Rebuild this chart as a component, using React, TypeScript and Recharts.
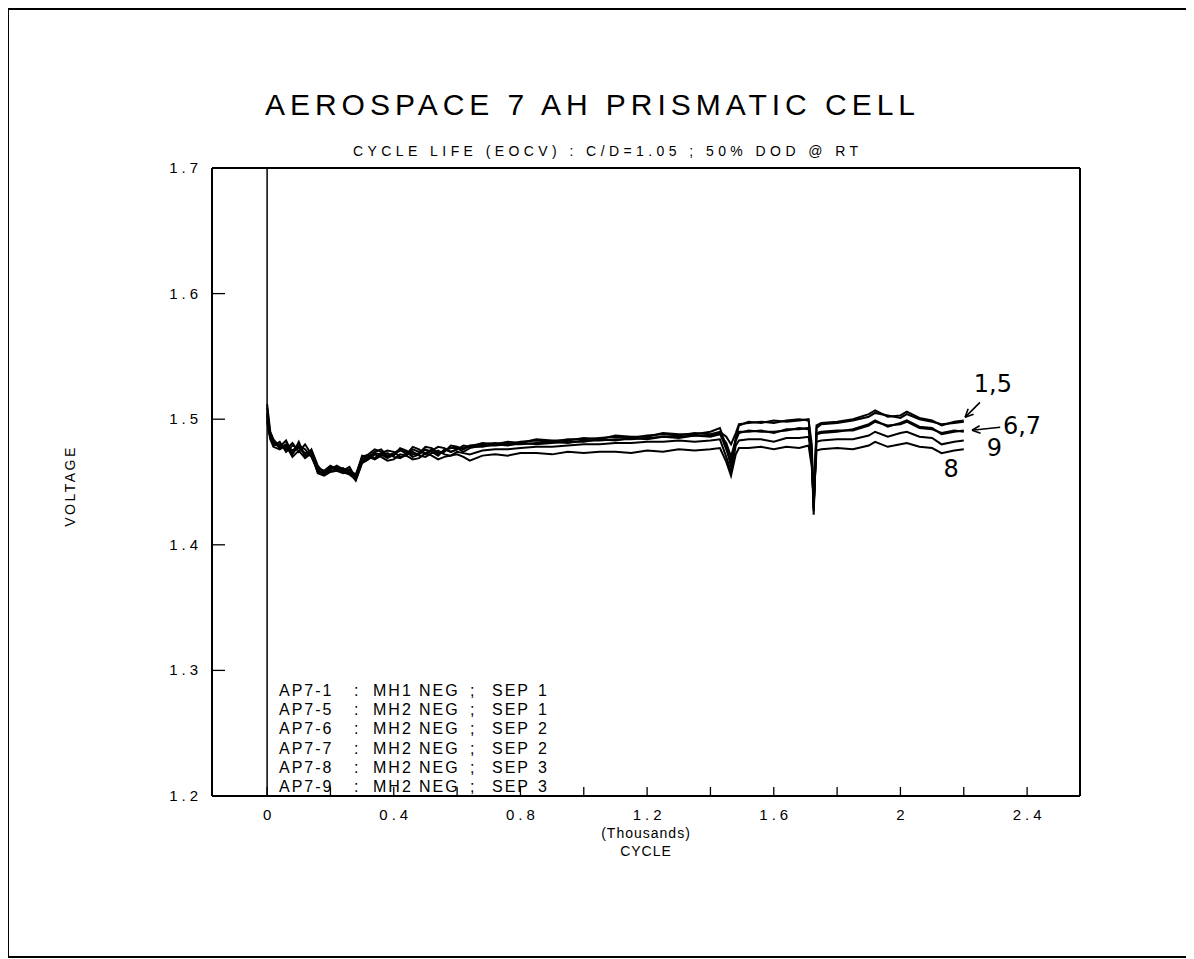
import { LineChart, Line, XAxis, YAxis, ReferenceLine, ReferenceDot, Label } from "recharts";

// cycles in thousands
const cycles = [
  0, 0.01, 0.02, 0.04, 0.06, 0.08, 0.1, 0.12, 0.14, 0.16, 0.18, 0.2, 0.22, 0.24, 0.26, 0.28, 0.3,
  0.32, 0.34, 0.36, 0.38, 0.4, 0.42, 0.44, 0.46, 0.48, 0.5, 0.52, 0.54, 0.56, 0.58, 0.6, 0.62, 0.64,
  0.68, 0.72, 0.76, 0.8, 0.85, 0.9, 0.95, 1.0, 1.05, 1.1, 1.15, 1.2, 1.25, 1.3, 1.35, 1.4,
  1.43, 1.45, 1.465, 1.48, 1.49, 1.52, 1.56, 1.6, 1.64, 1.68, 1.71, 1.72, 1.726, 1.735, 1.75, 1.8, 1.85,
  1.9, 1.92, 1.96, 2.0, 2.02, 2.06, 2.1, 2.13, 2.17, 2.2,
];

const ap71 = [
  1.512, 1.49, 1.484, 1.478, 1.483, 1.472, 1.482, 1.47, 1.476, 1.463, 1.457, 1.461, 1.462, 1.459, 1.462, 1.453, 1.47,
  1.472, 1.476, 1.474, 1.47, 1.471, 1.477, 1.475, 1.472, 1.473, 1.478, 1.477, 1.473, 1.474, 1.479, 1.478, 1.476, 1.479,
  1.48, 1.481, 1.48, 1.482, 1.483, 1.482, 1.484, 1.484, 1.485, 1.486, 1.485, 1.487, 1.488, 1.487, 1.489, 1.488,
  1.49, 1.486, 1.48, 1.489, 1.496, 1.497, 1.498, 1.497, 1.499, 1.5, 1.499, 1.48, 1.43, 1.495, 1.497, 1.498, 1.5,
  1.504, 1.507, 1.502, 1.503, 1.506, 1.501, 1.499, 1.495, 1.498, 1.499,
];
const ap75 = [
  1.509, 1.488, 1.481, 1.48, 1.476, 1.481, 1.474, 1.48, 1.472, 1.461, 1.459, 1.463, 1.46, 1.461, 1.457, 1.455, 1.471,
  1.47, 1.474, 1.476, 1.471, 1.473, 1.476, 1.472, 1.478, 1.476, 1.472, 1.475, 1.478, 1.477, 1.474, 1.476, 1.479, 1.478,
  1.481, 1.48, 1.482, 1.481, 1.484, 1.483, 1.483, 1.485, 1.484, 1.487, 1.486, 1.486, 1.489, 1.488, 1.488, 1.49,
  1.493, 1.478, 1.462, 1.485, 1.495, 1.498, 1.497, 1.499, 1.498, 1.499, 1.5, 1.47, 1.424, 1.493, 1.496, 1.497, 1.499,
  1.502, 1.505, 1.503, 1.501, 1.504, 1.5, 1.498, 1.496, 1.497, 1.498,
];
const ap76 = [
  1.505, 1.487, 1.479, 1.482, 1.474, 1.479, 1.477, 1.473, 1.474, 1.46, 1.456, 1.462, 1.461, 1.458, 1.46, 1.454, 1.468,
  1.471, 1.469, 1.473, 1.475, 1.474, 1.47, 1.471, 1.476, 1.474, 1.473, 1.476, 1.472, 1.475, 1.477, 1.477, 1.474, 1.477,
  1.479, 1.479, 1.48, 1.48, 1.481, 1.482, 1.481, 1.483, 1.483, 1.484, 1.484, 1.485, 1.486, 1.486, 1.487, 1.486,
  1.488, 1.481, 1.47, 1.484, 1.49, 1.49, 1.491, 1.489, 1.492, 1.492, 1.493, 1.475, 1.427, 1.488, 1.489, 1.49, 1.492,
  1.496, 1.499, 1.494, 1.497, 1.499, 1.494, 1.493, 1.488, 1.49, 1.491,
];
const ap77 = [
  1.503, 1.486, 1.482, 1.477, 1.48, 1.475, 1.479, 1.476, 1.47, 1.459, 1.458, 1.46, 1.463, 1.46, 1.459, 1.456, 1.469,
  1.469, 1.473, 1.472, 1.469, 1.472, 1.475, 1.474, 1.47, 1.472, 1.476, 1.474, 1.471, 1.476, 1.474, 1.476, 1.477, 1.478,
  1.478, 1.48, 1.479, 1.481, 1.48, 1.481, 1.482, 1.482, 1.484, 1.483, 1.485, 1.484, 1.486, 1.485, 1.487, 1.487,
  1.489, 1.476, 1.466, 1.483, 1.489, 1.491, 1.49, 1.49, 1.491, 1.493, 1.492, 1.472, 1.429, 1.489, 1.49, 1.491, 1.491,
  1.495, 1.498, 1.495, 1.496, 1.498, 1.493, 1.492, 1.489, 1.491, 1.49,
];
const ap78 = [
  1.498, 1.484, 1.478, 1.476, 1.479, 1.47, 1.475, 1.469, 1.473, 1.457, 1.455, 1.458, 1.459, 1.457, 1.458, 1.451, 1.465,
  1.468, 1.472, 1.47, 1.467, 1.468, 1.472, 1.471, 1.468, 1.469, 1.473, 1.471, 1.468, 1.47, 1.471, 1.472, 1.47, 1.467,
  1.471, 1.472, 1.471, 1.473, 1.473, 1.472, 1.474, 1.473, 1.474, 1.474, 1.473, 1.475, 1.474, 1.476, 1.475, 1.476,
  1.477, 1.466, 1.455, 1.472, 1.477, 1.477, 1.478, 1.476, 1.478, 1.477, 1.479, 1.462, 1.435, 1.475, 1.476, 1.477, 1.476,
  1.479, 1.482, 1.478, 1.48, 1.481, 1.478, 1.477, 1.473, 1.475, 1.476,
];
const ap79 = [
  1.5, 1.485, 1.48, 1.479, 1.477, 1.473, 1.478, 1.472, 1.471, 1.458, 1.457, 1.459, 1.46, 1.458, 1.456, 1.452, 1.466,
  1.47, 1.468, 1.471, 1.473, 1.47, 1.469, 1.472, 1.474, 1.471, 1.47, 1.473, 1.475, 1.472, 1.471, 1.474, 1.473, 1.472,
  1.475, 1.476, 1.476, 1.477, 1.478, 1.478, 1.479, 1.48, 1.48, 1.481, 1.481, 1.482, 1.482, 1.483, 1.482, 1.483,
  1.484, 1.47, 1.458, 1.479, 1.483, 1.484, 1.484, 1.482, 1.485, 1.485, 1.486, 1.468, 1.432, 1.482, 1.483, 1.484, 1.484,
  1.487, 1.49, 1.486, 1.489, 1.49, 1.486, 1.485, 1.48, 1.482, 1.483,
];

const seriesKeys = ["ap71", "ap75", "ap76", "ap77", "ap78", "ap79"];
const seriesNames = ["AP7-1", "AP7-5", "AP7-6", "AP7-7", "AP7-8", "AP7-9"];

const xTicks = [0, 0.2, 0.4, 0.6, 0.8, 1.0, 1.2, 1.4, 1.6, 1.8, 2.0, 2.2, 2.4];
const xTickLabels = ["0", "", "0.4", "", "0.8", "", "1.2", "", "1.6", "", "2", "", "2.4"];
const yTicks = [1.2, 1.3, 1.4, 1.5, 1.6, 1.7];
const yTickLabels = ["1.2", "1.3", "1.4", "1.5", "1.6", "1.7"];

const legendRows = [
  ["AP7-1", ":", "MH1", "NEG", ";", "SEP", "1"],
  ["AP7-5", ":", "MH2", "NEG", ";", "SEP", "1"],
  ["AP7-6", ":", "MH2", "NEG", ";", "SEP", "2"],
  ["AP7-7", ":", "MH2", "NEG", ";", "SEP", "2"],
  ["AP7-8", ":", "MH2", "NEG", ";", "SEP", "3"],
  ["AP7-9", ":", "MH2", "NEG", ";", "SEP", "3"],
];

// hand-written notes at the line ends
const notes = [
  { text: "1,5", cycle: 2.292, volt: 1.5286 },
  { text: "6,7", cycle: 2.384, volt: 1.4952 },
  { text: "9", cycle: 2.297, volt: 1.4777 },
  { text: "8", cycle: 2.16, volt: 1.4609 },
];
const arrowSegments = [
  [[2.251, 1.5134], [2.204, 1.5015]],
  [[2.231, 1.504], [2.204, 1.5015]],
  [[2.214, 1.5083], [2.204, 1.5015]],
  [[2.315, 1.4936], [2.226, 1.4912]],
  [[2.253, 1.4889], [2.226, 1.4912]],
  [[2.25, 1.4948], [2.226, 1.4912]],
];

const X_DOMAIN = [-0.174, 2.567];
const FONT = "'Liberation Sans', Arial, sans-serif";

const data = cycles.map((c, i) => ({
  cycle: c,
  ap71: ap71[i],
  ap75: ap75[i],
  ap76: ap76[i],
  ap77: ap77[i],
  ap78: ap78[i],
  ap79: ap79[i],
}));

function XTick({ x, y, payload }: any) {
  const i = xTicks.findIndex((t) => Math.abs(t - payload.value) < 1e-6);
  const label = i >= 0 ? xTickLabels[i] : "";
  return (
    <g>
      <line x1={x} y1={y} x2={x} y2={y - 9} stroke="#000" strokeWidth={1.3} />
      {label && (
        <text x={x} y={y + 24} dx={2} textAnchor="middle" fontSize={15} letterSpacing={4} fontFamily={FONT} fill="#000">
          {label}
        </text>
      )}
    </g>
  );
}

function YTick({ x, y, payload }: any) {
  const i = yTicks.findIndex((t) => Math.abs(t - payload.value) < 1e-6);
  return (
    <g>
      <line x1={x} y1={y} x2={x + 13} y2={y} stroke="#000" strokeWidth={1.3} />
      <text x={x - 10} y={y + 5} textAnchor="end" fontSize={15} letterSpacing={4} fontFamily={FONT} fill="#000">
        {yTickLabels[i]}
      </text>
    </g>
  );
}

function CycleLabel({ viewBox }: any) {
  const cx = viewBox.x + viewBox.width / 2;
  return (
    <g fontFamily={FONT} fill="#000" fontSize={14} textAnchor="middle" letterSpacing={1}>
      <text x={cx} y={viewBox.y + 42}>(Thousands)</text>
      <text x={cx} y={viewBox.y + 60}>CYCLE</text>
    </g>
  );
}

function VoltageLabel({ viewBox }: any) {
  const cy = viewBox.y + viewBox.height / 2 + 4;
  return (
    <text
      x={62}
      y={cy}
      transform={`rotate(-90 62 ${cy})`}
      textAnchor="middle"
      dominantBaseline="central"
      fontFamily={FONT}
      fontSize={14}
      letterSpacing={2.5}
      fill="#000"
    >
      VOLTAGE
    </text>
  );
}

const legendCols = [271, 346, 365, 411, 462, 484, 530];

export default function App() {
  return (
    <div style={{ position: "relative", width: 1186, height: 950 }}>
      <div
        style={{
          position: "absolute",
          left: -1,
          top: 0,
          width: 1182,
          height: 946,
          border: "2px solid #000",
        }}
      />
      <div style={{ position: "absolute", left: 0, top: 0 }}>
        <LineChart width={1186} height={900} data={data} margin={{ top: 160, right: 114, left: 0, bottom: 52 }}>
          <XAxis
            dataKey="cycle"
            type="number"
            domain={X_DOMAIN}
            ticks={xTicks}
            allowDataOverflow
            height={60}
            tickSize={0}
            tickMargin={0}
            tick={<XTick />}
            axisLine={{ stroke: "#000", strokeWidth: 2 }}
            tickLine={false}
          >
            <Label content={<CycleLabel />} />
          </XAxis>
          <YAxis
            type="number"
            domain={[1.2, 1.7]}
            ticks={yTicks}
            allowDataOverflow
            width={204}
            tickSize={0}
            tickMargin={0}
            tick={<YTick />}
            axisLine={{ stroke: "#000", strokeWidth: 2 }}
            tickLine={false}
          >
            <Label content={<VoltageLabel />} />
          </YAxis>
          <ReferenceLine y={1.7} stroke="#000" strokeWidth={2} />
          <ReferenceLine x={X_DOMAIN[1]} stroke="#000" strokeWidth={2} />
          <ReferenceLine x={0} stroke="#000" strokeWidth={1.5} />
          {seriesKeys.map((k, i) => (
            <Line
              key={k}
              dataKey={k}
              name={seriesNames[i]}
              type="linear"
              stroke="#000"
              strokeWidth={2}
              dot={false}
              isAnimationActive={false}
            />
          ))}
          {arrowSegments.map((s, i) => (
            <ReferenceLine
              key={"arrow" + i}
              segment={[
                { x: s[0][0], y: s[0][1] },
                { x: s[1][0], y: s[1][1] },
              ]}
              stroke="#000"
              strokeWidth={1.6}
            />
          ))}
          {notes.map((n) => (
            <ReferenceDot
              key={n.text}
              x={n.cycle}
              y={n.volt}
              r={0}
              fill="none"
              stroke="none"
              label={{ value: n.text, position: "center", fontSize: 24, fill: "#000", fontFamily: "'DejaVu Sans', sans-serif" }}
            />
          ))}
        </LineChart>
      </div>
      <svg width={1186} height={950} style={{ position: "absolute", left: 0, top: 0, pointerEvents: "none" }}>
        <text x={257} y={107} textLength={650} lengthAdjust="spacing" fontFamily={FONT} fontSize={30} fill="#000">
          AEROSPACE 7 AH PRISMATIC CELL
        </text>
        <text x={345} y={148} textLength={505} lengthAdjust="spacing" fontFamily={FONT} fontSize={14} fill="#000">
          CYCLE LIFE (EOCV) : C/D=1.05 ; 50% DOD @ RT
        </text>
        {legendRows.map((row, r) => (
          <text key={r} y={688 + r * 19.2} fontFamily={FONT} fontSize={16} letterSpacing={2} fill="#000">
            {row.map((cell, c) => (
              <tspan key={c} x={legendCols[c]}>
                {cell}
              </tspan>
            ))}
          </text>
        ))}
      </svg>
    </div>
  );
}
